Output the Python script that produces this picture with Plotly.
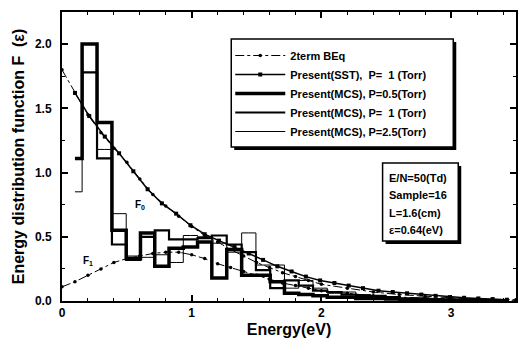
import plotly.graph_objects as go

# ---- data ----
beq_e = [0.0, 0.1, 0.2, 0.3, 0.4, 0.5, 0.6, 0.7, 0.8, 0.9, 1.0, 1.1, 1.2, 1.3, 1.4, 1.5,
         1.6, 1.7, 1.8, 1.9, 2.0, 2.2, 2.4, 2.6, 2.8, 3.0, 3.2, 3.5]
beq_f0 = [1.80, 1.62, 1.45, 1.31, 1.19, 1.08, 0.95, 0.83, 0.74, 0.66, 0.58, 0.51, 0.46, 0.40,
          0.35, 0.30, 0.26, 0.22, 0.19, 0.16, 0.13, 0.10, 0.07, 0.05, 0.035, 0.025, 0.015, 0.01]
beq_f1 = [0.11, 0.15, 0.20, 0.25, 0.30, 0.33, 0.35, 0.37, 0.38, 0.38, 0.36, 0.33, 0.29, 0.26,
          0.23, 0.20, 0.17, 0.14, 0.12, 0.10, 0.08, 0.06, 0.04, 0.03, 0.02, 0.015, 0.01, 0.005]

bin_e = [0.10, 0.21, 0.33, 0.44, 0.55, 0.66, 0.77, 0.88, 0.99, 1.10, 1.21, 1.33, 1.44, 1.55,
         1.66, 1.77, 1.88, 1.99, 2.10, 2.21, 2.32, 2.44, 2.55, 2.66, 2.77, 2.88, 2.99, 3.10,
         3.21, 3.32, 3.43]
sst_p1 = [1.62, 1.44, 1.28, 1.15, 1.01, 0.87, 0.76, 0.68, 0.59, 0.52, 0.47, 0.42, 0.37, 0.32,
          0.27, 0.23, 0.19, 0.16, 0.14, 0.12, 0.10, 0.08, 0.07, 0.06, 0.05, 0.04, 0.03, 0.025,
          0.02, 0.015, 0.01]
mcs_p05 = [1.11, 2.00, 1.39, 0.55, 0.33, 0.53, 0.27, 0.41, 0.42, 0.46, 0.18, 0.40, 0.20, 0.20,
           0.15, 0.06, 0.05, 0.04, 0.03, 0.03, 0.02, 0.02, 0.015, 0.01, 0.01, 0.01, 0.005,
           0.005, 0.005, 0.0, 0.0]
mcs_p1 = [1.11, 1.78, 1.11, 0.44, 0.32, 0.50, 0.55, 0.48, 0.48, 0.49, 0.51, 0.44, 0.38, 0.24,
          0.10, 0.16, 0.12, 0.08, 0.07, 0.05, 0.04, 0.04, 0.03, 0.02, 0.02, 0.015, 0.01, 0.01,
          0.005, 0.005, 0.0]
mcs_p25 = [0.85, 2.00, 1.18, 0.68, 0.35, 0.34, 0.36, 0.30, 0.51, 0.50, 0.45, 0.38, 0.53, 0.28,
           0.28, 0.10, 0.16, 0.10, 0.06, 0.07, 0.05, 0.03, 0.03, 0.02, 0.015, 0.01, 0.01, 0.005,
           0.005, 0.005, 0.005]

x_ticks = [0, 1, 2, 3]
y_ticks = [0.0, 0.5, 1.0, 1.5, 2.0]
y_ticklabels = ["0.0", "0.5", "1.0", "1.5", "2.0"]
info_lines = ["E/N=50(Td)", "Sample=16", "L=1.6(cm)", "ε=0.64(eV)"]

NB = "\u00a0"
names = ["2term BEq",
         "Present(SST)," + NB + NB + "P=" + NB + NB + "1 (Torr)",
         "Present(MCS)," + NB + "P=0.5(Torr)",
         "Present(MCS)," + NB + "P=" + NB + NB + "1 (Torr)",
         "Present(MCS)," + NB + "P=2.5(Torr)"]

FONT = "Liberation Sans, Arial"
BLK = "black"

fig = go.Figure()
fig.add_trace(go.Scatter(x=beq_e, y=beq_f1, mode="lines+markers", name="<b>" + names[0] + "</b>",
                         line=dict(color=BLK, width=1, dash="dashdot"),
                         marker=dict(color=BLK, size=3.5, symbol="circle")))
fig.add_trace(go.Scatter(x=beq_e, y=beq_f0, mode="lines+markers", showlegend=False,
                         line=dict(color=BLK, width=1, dash="dashdot"),
                         marker=dict(color=BLK, size=3.5, symbol="circle")))
fig.add_trace(go.Scatter(x=bin_e, y=sst_p1, mode="lines+markers", name="<b>" + names[1] + "</b>",
                         line=dict(color=BLK, width=1.5),
                         marker=dict(color=BLK, size=4, symbol="square")))
fig.add_trace(go.Scatter(x=bin_e, y=mcs_p05, mode="lines", name="<b>" + names[2] + "</b>",
                         line=dict(color=BLK, width=3.5, shape="hvh")))
fig.add_trace(go.Scatter(x=bin_e, y=mcs_p1, mode="lines", name="<b>" + names[3] + "</b>",
                         line=dict(color=BLK, width=2.2, shape="hvh")))
fig.add_trace(go.Scatter(x=bin_e, y=mcs_p25, mode="lines", name="<b>" + names[4] + "</b>",
                         line=dict(color=BLK, width=1, shape="hvh")))

L, R, T, B = 62, 2, 12, 39
PW, PH = 520 - L - R, 340 - T - B


def px(xp):
    return (xp - L) / PW


def py(yp):
    return (T + PH - yp) / PH


shapes = [
    # legend shadow + box
    dict(type="rect", xref="paper", yref="paper", x0=px(235), x1=px(458), y0=py(150), y1=py(42),
         fillcolor=BLK, line=dict(width=0)),
    dict(type="rect", xref="paper", yref="paper", x0=px(232), x1=px(455), y0=py(147), y1=py(39),
         fillcolor="white", line=dict(color=BLK, width=1.5)),
    # info box shadow + box
    dict(type="rect", xref="paper", yref="paper", x0=px(387), x1=px(463), y0=py(244), y1=py(166),
         fillcolor=BLK, line=dict(width=0)),
    dict(type="rect", xref="paper", yref="paper", x0=px(384), x1=px(460), y0=py(241), y1=py(163),
         fillcolor="white", line=dict(color=BLK, width=1.5)),
]

annotations = []
for i, t in enumerate(info_lines):
    annotations.append(dict(xref="paper", yref="paper", x=px(388), y=py(178 + i * 17.4),
                            xanchor="left", yanchor="middle", text="<b>" + t + "</b>",
                            showarrow=False, font=dict(family=FONT, size=11, color=BLK)))
annotations.append(dict(x=0.6, y=0.75, text="<b>F<sub>0</sub></b>", showarrow=False,
                        font=dict(family=FONT, size=10, color=BLK)))
annotations.append(dict(x=0.2, y=0.31, text="<b>F<sub>1</sub></b>", showarrow=False,
                        font=dict(family=FONT, size=10, color=BLK)))

fig.update_layout(
    width=520, height=340,
    margin=dict(l=L, r=R, t=T, b=B),
    paper_bgcolor="white", plot_bgcolor="white",
    font=dict(family=FONT, color=BLK),
    showlegend=True,
    legend=dict(x=px(231), y=py(41), xanchor="left", yanchor="top",
                bgcolor="rgba(0,0,0,0)", borderwidth=0,
                font=dict(family=FONT, size=11, color=BLK),
                itemwidth=50, tracegroupgap=0),
    shapes=shapes,
    annotations=annotations,
)
fig.update_xaxes(range=[0, 3.5], tickvals=x_ticks, ticktext=["<b>%d</b>" % v for v in x_ticks],
                 ticks="inside", ticklen=6, tickwidth=1.5, tickcolor=BLK,
                 minor=dict(dtick=0.2, ticks="inside", ticklen=3, tickwidth=1, tickcolor=BLK),
                 showline=True, linewidth=2, linecolor=BLK, mirror="ticks",
                 showgrid=False, zeroline=False,
                 tickfont=dict(family=FONT, size=12, color=BLK),
                 title=dict(text="<b>Energy(eV)</b>", font=dict(family=FONT, size=16, color=BLK),
                            standoff=4))
fig.update_yaxes(range=[0, 2.25], tickvals=y_ticks,
                 ticktext=["<b>%s</b>" % t for t in y_ticklabels],
                 ticks="inside", ticklen=6, tickwidth=1.5, tickcolor=BLK,
                 minor=dict(dtick=0.25, ticks="inside", ticklen=3, tickwidth=1, tickcolor=BLK),
                 showline=True, linewidth=2, linecolor=BLK, mirror="ticks",
                 showgrid=False, zeroline=False, ticklabelstandoff=6,
                 tickfont=dict(family=FONT, size=12, color=BLK),
                 title=dict(text="<b>Energy distribution function F" + NB + NB + "(ε)</b>",
                            font=dict(family=FONT, size=16, color=BLK), standoff=6))

fig.write_html("out.html")
